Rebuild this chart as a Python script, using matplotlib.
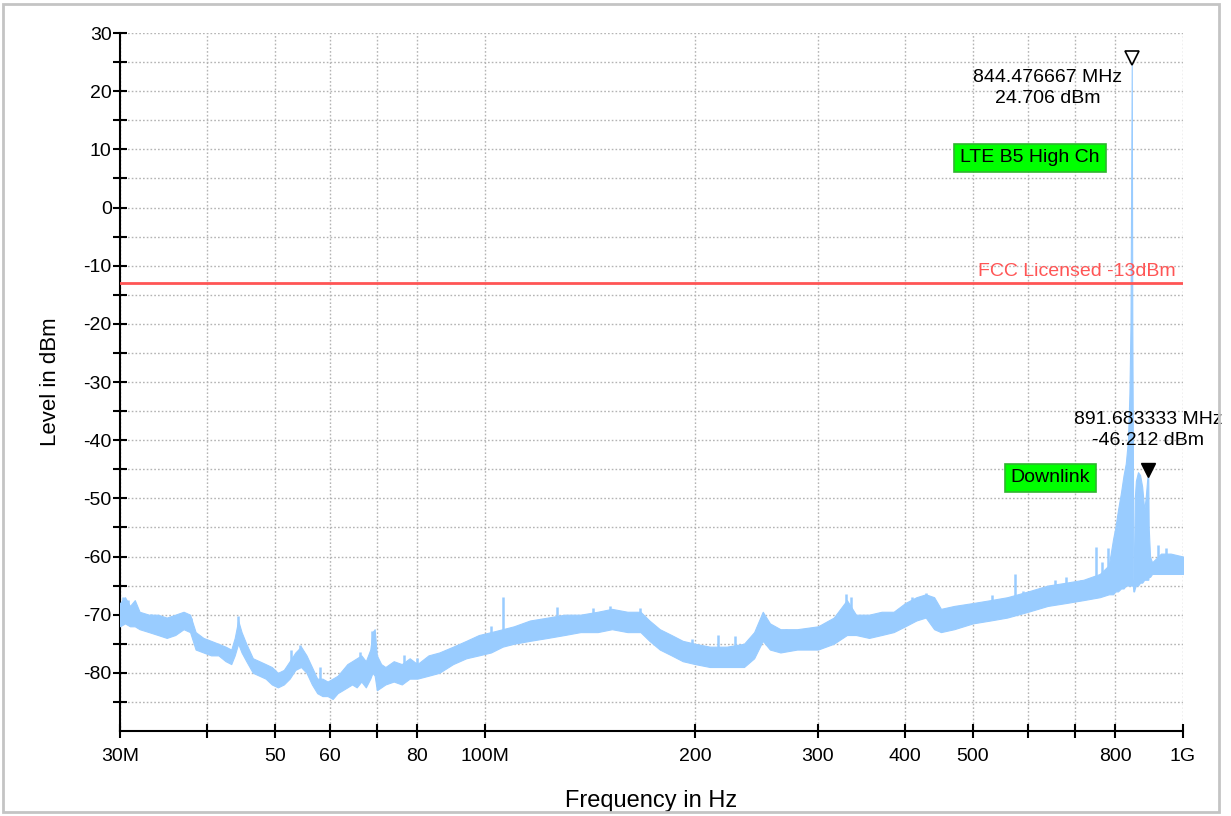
import matplotlib.pyplot as plt
import matplotlib.transforms as mtransforms
from matplotlib.patches import Rectangle
import numpy as np

plt.rcParams['font.family'] = ['Liberation Sans', 'DejaVu Sans']

# spectrum envelope (MHz, dBm low / high edge of the trace band)
freq_mhz = [30.0, 30.5, 31.0, 31.5, 32.0, 33.0, 34.0, 35.0, 36.0, 37.0, 37.8, 38.5,
            39.5, 40.5, 41.5, 42.5, 43.3, 43.8, 44.3, 44.8, 45.5, 46.5, 47.5, 48.5,
            49.5, 50.5, 51.5, 52.5, 53.5, 54.5, 55.5, 56.5, 57.5, 58.5, 59.5, 60.5,
            61.5, 62.5, 63.5, 64.5, 65.5, 66.5, 67.5, 68.5, 69.0, 69.5, 70.0, 71.0,
            72.0, 74.0, 76.0, 78.0, 80.0, 83.0, 86.0, 90.0, 94.0, 98.0, 102.0, 106.0,
            110.0, 116.0, 123.0, 130.0, 137.0, 145.0, 152.0, 160.0, 167.0, 172.0, 178.0,
            185.0, 192.0, 200.0, 210.0, 222.0, 235.0, 243.0, 250.0, 256.0, 265.0, 280.0,
            300.0, 316.0, 330.0, 340.0, 355.0, 370.0, 385.0, 400.0, 415.0, 428.0, 440.0,
            450.0, 470.0, 500.0, 530.0, 560.0, 600.0, 640.0, 680.0, 720.0, 760.0, 783.0,
            794.0, 800.0, 807.0, 815.0, 822.0, 828.0, 834.0, 838.0, 841.0, 844.476667,
            846.0, 847.5, 849.0, 851.0, 853.0, 856.0, 862.0, 868.0, 874.0, 880.0, 884.0,
            889.0, 891.683333, 893.0, 897.0, 903.0, 930.0, 960.0, 1000.0]
level_lo = [-72, -71.5, -72, -72, -72.5, -73, -73.5, -74, -73.5, -72.5, -73, -76,
            -76.5, -77, -77, -78, -78.5, -77, -75, -76.5, -78, -80, -80.5, -81,
            -82, -82.5, -82, -81, -79.5, -79, -80, -82, -83.5, -84, -84, -84.5,
            -83.5, -83, -82.5, -82, -82.5, -81.5, -82.5, -81, -80, -80.5, -83, -82.5,
            -82, -81.5, -82, -81, -81, -80.5, -80, -78.5, -77.5, -77, -76.5, -75.5,
            -75, -74.5, -74, -73.5, -73, -73, -72.5, -73, -73, -74.5, -76,
            -77, -78, -78.5, -79, -79, -79, -77.5, -74.5, -76, -76.5, -76,
            -76, -75, -73.5, -73.5, -74, -73.5, -73, -72, -71, -70.5, -72.5,
            -73, -72.5, -71.5, -71, -70.5, -69.5, -68.5, -68, -67.5, -67, -66.5,
            -66.5, -66, -66, -65.5, -65.5, -65, -65, -65, -65, -65,
            -65, -65, -66, -66, -65.5, -65, -65, -64.5, -64.5, -64, -64,
            -64, -64, -63.5, -63.5, -63, -63, -63, -63]
level_hi = [-68, -67, -68.5, -67.5, -69.5, -70, -70, -70.5, -70, -69.5, -70, -73,
            -74, -74.5, -75, -75.5, -76, -74, -71, -73, -75, -77.5, -78, -78.5,
            -79, -80, -79.5, -78, -76.5, -75.5, -77, -79, -81, -81, -81.5, -81,
            -80.5, -79.5, -78.5, -78, -77.5, -77, -78, -76, -73, -72.5, -77, -78.5,
            -79, -78, -78.5, -77.5, -78.5, -77, -76.5, -75.5, -74.5, -73.5, -73, -72.5,
            -72, -71, -70.5, -70, -70, -69.5, -69, -69.5, -69.5, -71, -72.5,
            -73.5, -74.5, -75, -75.5, -75.5, -75, -73, -69.5, -71.5, -72.5, -72.5,
            -72, -70.5, -67.5, -70, -70, -69.5, -69.5, -68, -67, -66.5, -67,
            -69, -68.5, -68, -67.5, -67, -66, -65, -64.5, -64, -63, -61.5,
            -57, -55, -52, -49, -46, -44, -40, -32, -20, 24.706,
            -20, -40, -64, -64, -50, -47, -45.5, -46, -48, -52, -50,
            -46.5, -46.212, -55, -60, -61, -59.5, -59.5, -60]

# narrow spikes standing out of the band (MHz, base dBm, top dBm)
spike_mhz = [30.3, 30.8, 33.2, 34.0, 36.8, 37.9, 44.3, 52.8, 54.3, 58.1, 66.3, 68.9,
             76.5, 80.0, 102.0, 106.0, 110.0, 117.0, 124.0, 127.0, 143.0, 151.0,
             167.0, 198.0, 216.0, 228.0, 250.0, 270.0, 297.0, 329.0, 334.0, 409.0,
             428.0, 474.0, 533.0, 574.0, 590.0, 656.0, 680.0, 714.0, 750.0, 765.0,
             780.0, 804.0, 920.0, 944.0, 980.0]
spike_base = [-71, -71, -72, -72, -72, -72, -74, -79, -78, -82, -80, -80,
              -80, -80, -76, -75, -74, -74, -73, -73, -72, -72,
              -72, -77, -78, -78, -73, -75, -75, -72, -72, -71,
              -70, -71, -70, -70, -69, -67.5, -67, -66.5, -66, -66,
              -65.5, -64, -62, -62, -62]
spike_top = [-66.9, -67.5, -69.8, -70.5, -69.7, -70.5, -70.3, -76, -75.2, -79, -76.5, -72.8,
             -77, -77.5, -72, -67, -72.5, -72.5, -70.5, -68.6, -68.8, -68.5,
             -68.8, -74.1, -73.5, -73.7, -69.8, -72.5, -72.5, -66.5, -67, -66.9,
             -66.3, -68.5, -66.7, -63, -66, -64, -63.5, -64, -58.3, -61,
             -58.5, -56.2, -58, -58.5, -62]

limit_db = -13
peak1 = (844.476667, 24.706)
peak2 = (891.683333, -46.212)

xticks_mhz = [30, 40, 50, 60, 70, 80, 100, 200, 300, 400, 500, 600, 700, 800, 1000]
xtick_labels = ['30M', '', '50', '60', '', '80', '100M', '200', '300', '400', '500',
                '', '', '800', '1G']

trace_col = '#99ccff'

fig = plt.figure(figsize=(12.31, 8.16), dpi=100)
fig.patches.append(Rectangle((3 / 1231, 4 / 816), 1216 / 1231, 808 / 816,
                             transform=fig.transFigure, fill=False,
                             edgecolor='#c4c4c4', linewidth=2))
ax = fig.add_axes([120 / 1231, 1 - 731 / 816, 1063 / 1231, 698 / 816])

f = np.array(freq_mhz) * 1e6
ax.fill_between(f, level_lo, level_hi, color=trace_col, linewidth=0.8,
                edgecolor=trace_col, zorder=3)
ax.vlines(np.array(spike_mhz) * 1e6, spike_base, spike_top, color=trace_col,
          linewidth=1.8, zorder=3)

ax.axhline(limit_db, color='#ff5555', linewidth=2, zorder=4)
blend = mtransforms.blended_transform_factory(ax.transAxes, ax.transData)
ax.text(0.993, limit_db + 0.6, 'FCC Licensed -13dBm', transform=blend, ha='right',
        va='bottom', color='#ff5555', fontsize=14, zorder=5)

# markers, tip sits on the level
up = mtransforms.ScaledTranslation(0, 6 / 100, fig.dpi_scale_trans)
ax.plot(peak1[0] * 1e6, peak1[1], marker='v', markersize=10, markerfacecolor='white',
        markeredgecolor='black', markeredgewidth=1.2, zorder=6, transform=ax.transData + up)
ax.plot(peak2[0] * 1e6, peak2[1], marker='v', markersize=10, color='black', zorder=6,
        transform=ax.transData + up)
ax.annotate('%.6f MHz\n%.3f dBm' % peak1, xy=(peak1[0] * 1e6, peak1[1]),
            xytext=(-84, -24), textcoords='offset pixels', ha='center', va='center',
            fontsize=14, linespacing=1.3, zorder=7)
ax.annotate('%.6f MHz\n%.3f dBm' % peak2, xy=(peak2[0] * 1e6, peak2[1]),
            xytext=(0, 46), textcoords='offset pixels', ha='center', va='center',
            fontsize=14, linespacing=1.3, zorder=7, annotation_clip=False)

box = dict(boxstyle='square,pad=0.3', facecolor='#00ff00', edgecolor='#2fb52f', linewidth=1.2)
ax.text(0.856, 0.821, 'LTE B5 High Ch', transform=ax.transAxes, ha='center', va='center',
        fontsize=14, bbox=box, zorder=7)
ax.text(0.875, 0.3625, 'Downlink', transform=ax.transAxes, ha='center', va='center',
        fontsize=14, bbox=box, zorder=7)

ax.set_xscale('log')
ax.set_xlim(30e6, 1e9)
ax.set_ylim(-90, 30)
ax.set_xticks(np.array(xticks_mhz) * 1e6)
ax.set_xticklabels(xtick_labels)
ax.xaxis.set_minor_locator(plt.NullLocator())
yt = np.arange(-85, 31, 5)
ax.set_yticks(yt)
ax.set_yticklabels([str(v) if v % 10 == 0 else '' for v in yt])

for s in ['top', 'right']:
    ax.spines[s].set_visible(False)
for s in ['left', 'bottom']:
    ax.spines[s].set_linewidth(1.5)
ax.tick_params(axis='both', direction='inout', length=10, width=1.5, labelsize=14)
ax.tick_params(axis='x', pad=7)
ax.tick_params(axis='y', pad=1)
ax.grid(True, which='major', color='#b4b4b4', linestyle=(0, (1.2, 1.5)), linewidth=1)
ax.set_axisbelow(True)

ax.set_xlabel('Frequency in Hz', fontsize=17, labelpad=18)
ax.set_ylabel('Level in dBm', fontsize=16, labelpad=16)

fig.savefig('out.png', dpi=100)
